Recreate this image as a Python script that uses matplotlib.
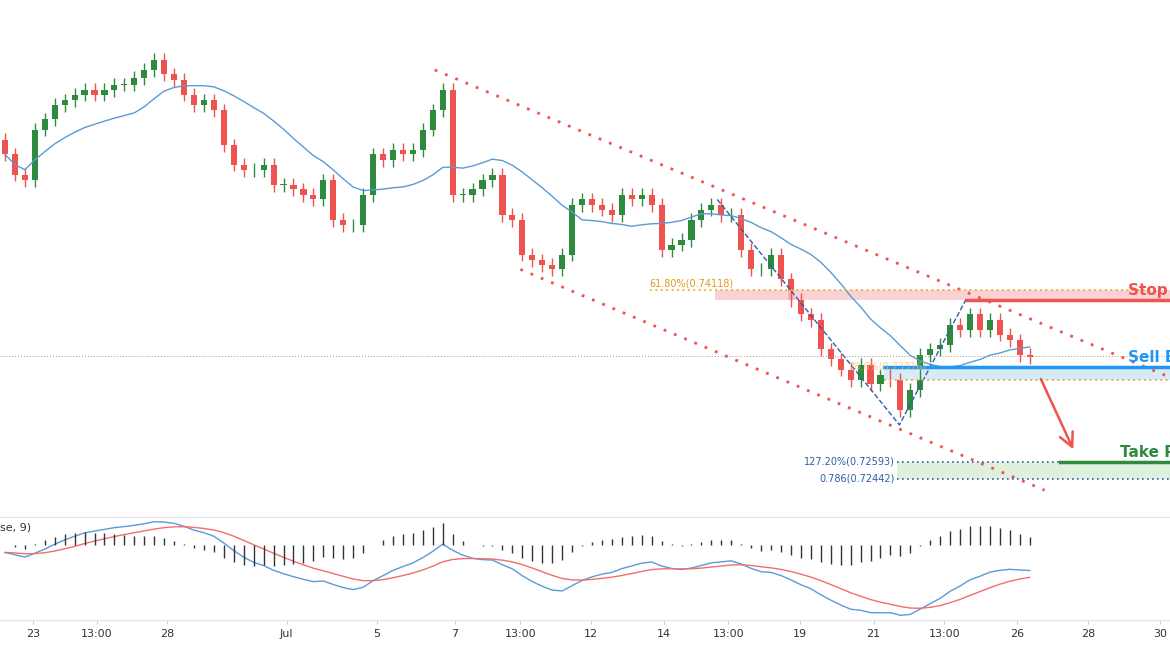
import matplotlib
matplotlib.use('Agg')
import matplotlib.pyplot as plt
import numpy as np

# cierres aproximados (una vela cada ~10 px)
closes = [0.7532, 0.7514, 0.7509, 0.7554, 0.7563, 0.7576, 0.7580, 0.7585, 0.7589, 0.7585,
          0.7589, 0.7594, 0.7594, 0.7600, 0.7607, 0.7616, 0.7603, 0.7598, 0.7585, 0.7576,
          0.7580, 0.7571, 0.7540, 0.7523, 0.7518, 0.7518, 0.7523, 0.7505, 0.7505, 0.7501,
          0.7496, 0.7492, 0.7509, 0.7474, 0.7469, 0.7469, 0.7496, 0.7532, 0.7527, 0.7536,
          0.7532, 0.7536, 0.7554, 0.7571, 0.7589, 0.7496, 0.7496, 0.7501, 0.7509, 0.7514,
          0.7478, 0.7474, 0.7443, 0.7438, 0.7434, 0.7430, 0.7443, 0.7487, 0.7492, 0.7487,
          0.7483, 0.7478, 0.7496, 0.7492, 0.7496, 0.7487, 0.7447, 0.7452, 0.7456, 0.7474,
          0.7483, 0.7487, 0.7478, 0.7478, 0.7447, 0.7430, 0.7430, 0.7443, 0.7421, 0.7403,
          0.7390, 0.7385, 0.7359, 0.7350, 0.7341, 0.7332, 0.7345, 0.7328, 0.7336, 0.7332,
          0.7305, 0.7323, 0.7354, 0.7359, 0.7363, 0.7381, 0.7376, 0.7390, 0.7376, 0.7385,
          0.7372, 0.7367, 0.7354, 0.7352]
first_open = 0.7545
wick = 0.0006

xtick_pos = [2.8, 9.2, 16.3, 28.3, 37.4, 45.2, 51.8, 58.9, 66.2, 72.7, 79.9, 87.3, 94.4, 101.7, 108.9, 116.1]
xtick_lab = ['23', '13:00', '28', 'Jul', '5', '7', '13:00', '12', '14', '13:00', '19', '21', '13:00', '26', '28', '30']

fib_618 = 0.74118
stop_loss = 0.7403
sell_entry = 0.7343
fib_786 = 0.73316
tp_1272 = 0.72593
tp_0786 = 0.72442
channel_up = ([43.2, 116.6], [0.7607, 0.7336])
channel_dn = ([51.8, 104.5], [0.7430, 0.7234])
zigzag_x = [71.6, 89.9, 96.7]
zigzag_y = [0.7492, 0.7292, 0.7405]

GREEN = '#2e8b3e'
RED = '#ef5350'

closes = np.array(closes)
opens = np.concatenate([[first_open], closes[:-1]])
idx = np.arange(len(closes))

fig = plt.figure(figsize=(11.7, 6.5), dpi=100)
ax = fig.add_axes([0, 1 - 515 / 650, 1, 515 / 650])
ax2 = fig.add_axes([0, 1 - 620 / 650, 1, 103 / 650])

# velas
for i in idx:
    o, c = opens[i], closes[i]
    col = GREEN if c >= o else RED
    ax.vlines(i, min(o, c) - wick, max(o, c) + wick, color=col, lw=1)
    h = max(abs(c - o), 0.00005)
    ax.bar(i, h, bottom=min(o, c), width=0.62, color=col, lw=0)

# media movil
ma_full = np.array([closes[max(0, i - 13):i + 1].mean() for i in idx])
ax.plot(idx, ma_full, color='#5b9bd5', lw=1)

# canal
ax.plot(*channel_up, color=RED, ls=(0, (1, 3)), lw=2)
ax.plot(*channel_dn, color=RED, ls=(0, (1, 3)), lw=2)
ax.plot(zigzag_x, zigzag_y, color='#2f5ea8', ls='--', lw=1)

xmax = 117.1
ax.axhline(closes[-1] + 0.00015, color='#999999', ls=(0, (1, 2)), lw=0.7)
# stop loss
ax.fill_between([71.4, xmax], fib_618, stop_loss, color='#f8c8c8', alpha=0.8, lw=0)
ax.plot([64.8, xmax], [fib_618, fib_618], color='#f5a623', ls=(0, (1, 2)), lw=1.3)
ax.text(64.8, fib_618 + 0.0001, '61.80%(0.74118)', color='#e09a20', fontsize=7, va='bottom')
ax.plot([96.7, xmax], [stop_loss, stop_loss], color=RED, lw=2.5)
ax.text(112.9, fib_618 - 0.0001, 'Stop Loss', color=RED, fontsize=11, fontweight='bold', va='center')
# entrada
ax.fill_between([88.4, xmax], sell_entry, fib_786, color='#d6eaf8', lw=0)
ax.plot([88.4, xmax], [sell_entry, sell_entry], color='#2196f3', lw=2.5)
ax.plot([88.4, xmax], [fib_786, fib_786], color='#f5a623', ls=(0, (1, 2)), lw=1.3)
ax.text(84.8, sell_entry + 0.00005, '78.6%(0.73316)', color='#f5c060', fontsize=7, va='center', alpha=0.7)
ax.text(112.9, sell_entry + 0.0009, 'Sell Entry', color='#2196f3', fontsize=11, fontweight='bold', va='center')
# take profit
ax.fill_between([89.7, xmax], tp_0786, tp_1272, color='#dff0dc', lw=0)
ax.plot([89.7, xmax], [tp_1272, tp_1272], color='#2f5ea8', ls=(0, (1, 2)), lw=1.2)
ax.plot([89.7, xmax], [tp_0786, tp_0786], color='#2f5ea8', ls=(0, (1, 2)), lw=1.2)
ax.text(89.4, tp_1272, '127.20%(0.72593)', color='#2f5ea8', fontsize=7, ha='right', va='center')
ax.text(89.4, tp_0786, '0.786(0.72442)', color='#2f5ea8', fontsize=7, ha='right', va='center')
ax.plot([106.0, xmax], [tp_1272, tp_1272], color=GREEN, lw=2.5)
ax.text(112.1, tp_1272 + 0.0008, 'Take Profit', color=GREEN, fontsize=11, fontweight='bold', va='center')
ax.annotate('', xy=(107.5, 0.7268), xytext=(104.0, 0.7335),
            arrowprops=dict(arrowstyle='->', color=RED, lw=1.8, mutation_scale=25))

ax.set_xlim(-0.5, xmax)
ax.set_ylim(0.7212, 0.7669)
ax.axis('off')

# MACD
def ema(a, n):
    out = np.empty_like(a)
    k = 2 / (n + 1)
    out[0] = a[0]
    for i in range(1, len(a)):
        out[i] = a[i] * k + out[i - 1] * (1 - k)
    return out

macd = ema(closes, 12) - ema(closes, 26)
signal = ema(macd, 9)
hist = macd - signal
ax2.plot(idx, macd, color='#5b9bd5', lw=1)
ax2.plot(idx, signal, color='#f26d6d', lw=1)
ax2.set_xlim(-0.5, xmax)
ax3 = ax2.twinx()
ax3.vlines(idx, 0, hist, color='#333333', lw=1)
hm = np.abs(hist).max()
ax3.set_ylim(-hm * 3.5, hm * 1.3)
ax3.set_xlim(-0.5, xmax)
ax3.axis('off')
ax2.set_yticks([])
for s in ['left', 'right']:
    ax2.spines[s].set_visible(False)
ax2.spines['top'].set_color('#e0e3eb')
ax2.spines['bottom'].set_color('#e0e3eb')
ax2.set_xticks(xtick_pos)
ax2.set_xticklabels(xtick_lab, fontsize=8, color='#333333')
ax2.tick_params(axis='x', length=3, color='#cccccc')
ax2.text(0.0, 0.9, 'se, 9)', transform=ax2.transAxes, fontsize=8, color='#333333', va='center')

fig.savefig('out.png', dpi=100)
